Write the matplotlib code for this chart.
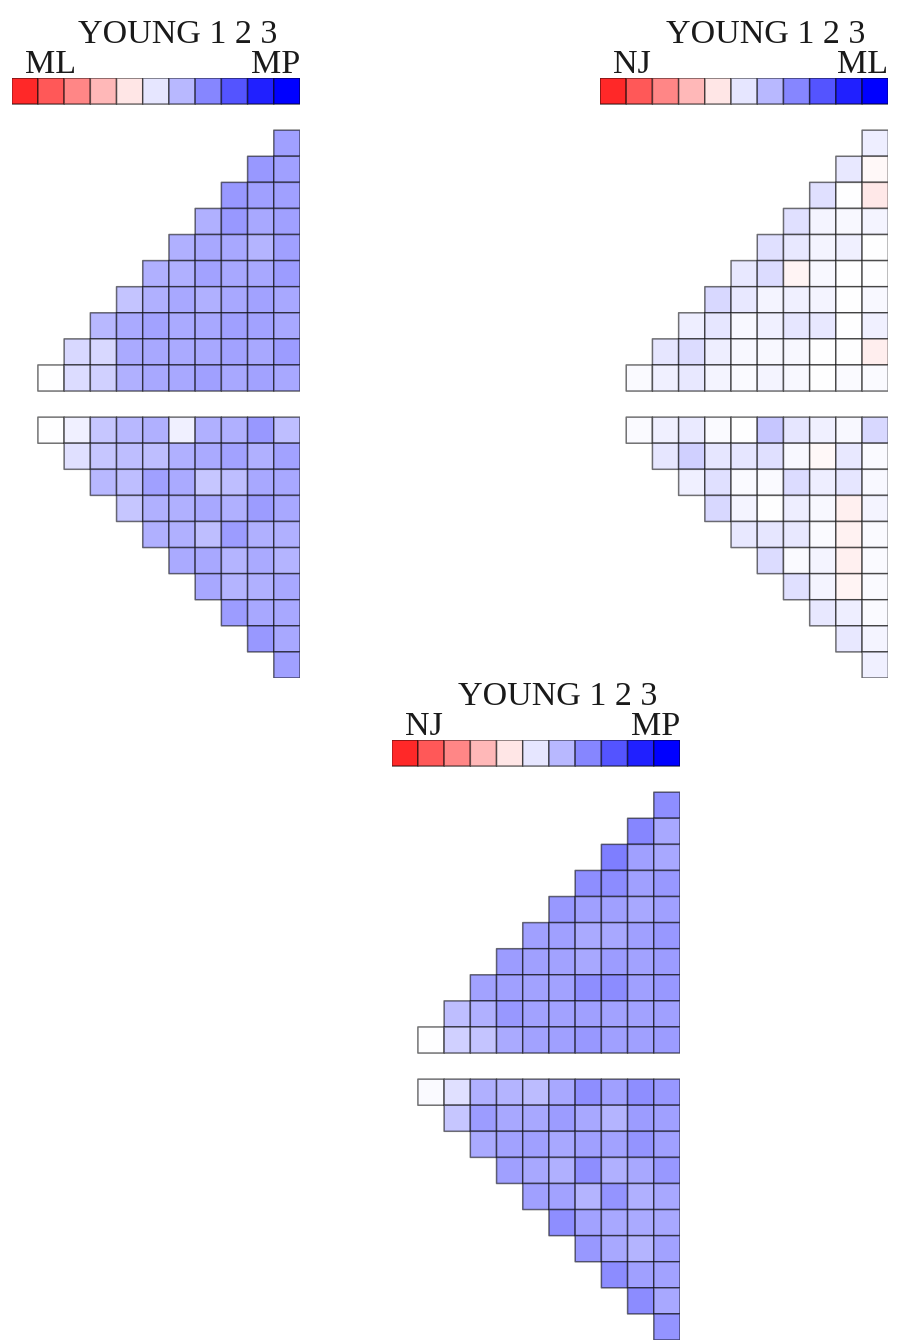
import numpy as np
import matplotlib
matplotlib.use("Agg")
import matplotlib.pyplot as plt

# ---------------------------------------------------------------- data
TITLE = "YOUNG 1 2 3"

# colour key: 11 swatches from the red end to the blue end
legend_levels = [-0.84, -0.65, -0.47, -0.28, -0.10, 0.10, 0.28, 0.47, 0.67, 0.87, 1.00]

# panel labels (left end, right end of the key)
labels_1 = ("ML", "MP")
labels_2 = ("NJ", "ML")
labels_3 = ("NJ", "MP")

# upper triangles: row r holds columns 9-r .. 9
upper_ml_mp = [
    [0.37],
    [0.40, 0.37],
    [0.40, 0.37, 0.37],
    [0.31, 0.40, 0.34, 0.37],
    [0.31, 0.34, 0.34, 0.29, 0.37],
    [0.31, 0.31, 0.36, 0.34, 0.34, 0.39],
    [0.23, 0.31, 0.34, 0.31, 0.34, 0.36, 0.34],
    [0.28, 0.33, 0.36, 0.33, 0.34, 0.37, 0.36, 0.34],
    [0.15, 0.15, 0.33, 0.34, 0.33, 0.34, 0.36, 0.34, 0.39],
    [0.00, 0.14, 0.18, 0.31, 0.34, 0.34, 0.37, 0.34, 0.36, 0.34],
]
# lower triangles: row r holds columns r .. 9
lower_ml_mp = [
    [0.00, 0.06, 0.22, 0.28, 0.31, 0.06, 0.31, 0.31, 0.40, 0.25],
    [0.12, 0.22, 0.25, 0.25, 0.31, 0.33, 0.36, 0.31, 0.36],
    [0.28, 0.25, 0.37, 0.33, 0.22, 0.25, 0.34, 0.34],
    [0.22, 0.31, 0.31, 0.34, 0.31, 0.39, 0.34],
    [0.31, 0.31, 0.25, 0.39, 0.31, 0.31],
    [0.33, 0.34, 0.29, 0.33, 0.29],
    [0.34, 0.29, 0.31, 0.34],
    [0.39, 0.34, 0.34],
    [0.40, 0.34],
    [0.37],
]

upper_nj_ml = [
    [0.07],
    [0.09, -0.03],
    [0.12, 0.00, -0.09],
    [0.12, 0.04, 0.03, 0.04],
    [0.12, 0.09, 0.04, 0.06, 0.00],
    [0.09, 0.14, -0.04, 0.03, 0.00, 0.00],
    [0.15, 0.09, 0.04, 0.06, 0.04, 0.00, 0.03],
    [0.07, 0.10, 0.03, 0.06, 0.10, 0.09, 0.00, 0.06],
    [0.10, 0.14, 0.07, 0.03, 0.03, 0.03, 0.00, 0.00, -0.07],
    [0.02, 0.06, 0.09, 0.04, 0.02, 0.04, 0.03, 0.00, 0.02, 0.02],
]
lower_nj_ml = [
    [0.02, 0.06, 0.08, 0.02, 0.00, 0.22, 0.10, 0.06, 0.03, 0.15],
    [0.10, 0.18, 0.10, 0.10, 0.12, 0.03, -0.03, 0.09, 0.02],
    [0.06, 0.12, 0.02, 0.02, 0.14, 0.07, 0.10, 0.03],
    [0.15, 0.04, 0.00, 0.07, 0.03, -0.06, 0.04],
    [0.09, 0.10, 0.09, 0.02, -0.05, 0.02],
    [0.14, 0.02, 0.04, -0.06, 0.02],
    [0.12, 0.04, -0.04, 0.02],
    [0.09, 0.07, 0.02],
    [0.09, 0.04],
    [0.06],
]

upper_nj_mp = [
    [0.44],
    [0.47, 0.34],
    [0.50, 0.37, 0.34],
    [0.44, 0.45, 0.37, 0.40],
    [0.40, 0.37, 0.37, 0.34, 0.37],
    [0.37, 0.37, 0.33, 0.34, 0.37, 0.40],
    [0.39, 0.37, 0.36, 0.34, 0.39, 0.36, 0.39],
    [0.36, 0.37, 0.36, 0.36, 0.44, 0.45, 0.37, 0.40],
    [0.25, 0.31, 0.40, 0.36, 0.36, 0.37, 0.36, 0.36, 0.37],
    [0.00, 0.18, 0.23, 0.33, 0.36, 0.37, 0.40, 0.37, 0.37, 0.39],
]
lower_nj_mp = [
    [0.02, 0.12, 0.31, 0.29, 0.26, 0.34, 0.44, 0.37, 0.44, 0.40],
    [0.22, 0.39, 0.34, 0.34, 0.39, 0.34, 0.29, 0.39, 0.37],
    [0.33, 0.36, 0.37, 0.34, 0.37, 0.36, 0.42, 0.37],
    [0.37, 0.34, 0.31, 0.44, 0.31, 0.34, 0.40],
    [0.37, 0.36, 0.29, 0.42, 0.31, 0.34],
    [0.44, 0.36, 0.34, 0.33, 0.34],
    [0.40, 0.34, 0.29, 0.36],
    [0.45, 0.37, 0.36],
    [0.45, 0.34],
    [0.42],
]

# ---------------------------------------------------------------- style
W, H = 899, 1341
CMAP = "bwr_r"
EDGE = (0.0, 0.0, 0.0, 0.55)
LW = 1.1
FONT = dict(family="Liberation Serif", size=24.5, color="#1a1a1a")

fig = plt.figure(figsize=(W / 100, H / 100), dpi=100)


def to_grid(rows):
    """Right-aligned ragged rows -> 10x10 masked array."""
    g = np.full((10, 10), np.nan)
    for r, row in enumerate(rows):
        g[r, 10 - len(row):] = row
    return np.ma.masked_invalid(g)


def draw_panel(x0, y0, labels, upper, lower):
    # x0, y0: top-left pixel of the colour key; one cell = 26.2 px
    w_px, h_px = 288.3, 600.0
    ax = fig.add_axes([x0 / W, 1 - (y0 + h_px) / H, w_px / W, h_px / H])
    ax.set_xlim(-1, 10)
    ax.set_ylim(21, -2)
    ax.axis("off")

    kw = dict(cmap=CMAP, vmin=-1, vmax=1, edgecolors=[EDGE], linewidth=LW)

    # colour key
    ax.pcolor(np.arange(-1, 11), [-2, -1], np.array([legend_levels]), **kw)

    cols = np.arange(0, 11)
    ax.pcolor(cols, np.arange(0, 11), to_grid(upper), **kw)
    ax.pcolor(cols, np.arange(11, 22), to_grid(lower), **kw)

    ax.text(9.12, -3.33, TITLE, ha="right", va="baseline", clip_on=False, **FONT)
    ax.text(-0.5, -2.2, labels[0], ha="left", va="baseline", clip_on=False, **FONT)
    ax.text(10.0, -2.2, labels[1], ha="right", va="baseline", clip_on=False, **FONT)


draw_panel(11.7, 78.0, labels_1, upper_ml_mp, lower_ml_mp)
draw_panel(600.0, 78.0, labels_2, upper_nj_ml, lower_nj_ml)
draw_panel(391.7, 740.0, labels_3, upper_nj_mp, lower_nj_mp)

fig.savefig("out.png", dpi=100, facecolor="white")
